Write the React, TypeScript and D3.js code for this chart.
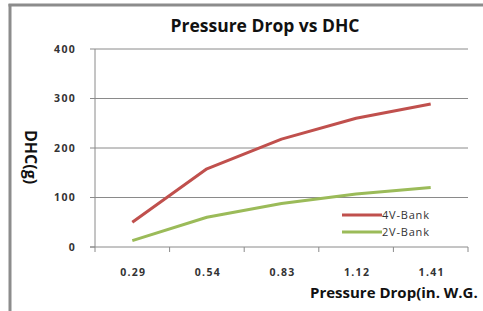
import React, { useEffect, useRef } from "react";
import * as d3 from "d3";

const categories = ["0.29", "0.54", "0.83", "1.12", "1.41"];
const bank4V = [50, 158, 218, 260, 289];
const bank2V = [13, 60, 88, 107, 120];
const yTicks = [0, 100, 200, 300, 400];
const seriesNames = ["4V-Bank", "2V-Bank"];
const seriesColors = ["#C0504D", "#9BBB59"];

const W = 483;
const H = 311;
const font = "'Open Sans', sans-serif";

export default function App() {
  const ref = useRef<SVGSVGElement>(null);

  useEffect(() => {
    const svg = d3.select(ref.current);
    svg.selectAll("*").remove();

    const margin = { top: 49, right: 15, bottom: 64, left: 95 };
    const width = W - margin.left - margin.right;
    const height = H - margin.top - margin.bottom;

    // frame
    svg.append("rect").attr("width", W).attr("height", H).attr("fill", "#fff");
    svg.append("line").attr("x1", 10).attr("x2", 10).attr("y1", 4).attr("y2", H)
      .attr("stroke", "#8c8c8c").attr("stroke-width", 3);
    svg.append("line").attr("x1", 8.5).attr("x2", W).attr("y1", 5).attr("y2", 5)
      .attr("stroke", "#8c8c8c").attr("stroke-width", 3);

    const g = svg.append("g").attr("transform", "translate(" + margin.left + "," + margin.top + ")");

    const x = d3.scaleBand().domain(categories).range([0, width]);
    const y = d3.scaleLinear().domain([0, 400]).range([height, 0]);

    // grid
    g.selectAll(".grid").data(yTicks.slice(1)).enter().append("line")
      .attr("x1", 0).attr("x2", width)
      .attr("y1", (d) => y(d)).attr("y2", (d) => y(d))
      .attr("stroke", "#8a8a8a").attr("stroke-width", 1);

    // axes
    g.append("line").attr("x1", 0).attr("x2", 0).attr("y1", 0).attr("y2", height)
      .attr("stroke", "#8a8a8a");
    g.append("line").attr("x1", -5).attr("x2", width).attr("y1", height).attr("y2", height)
      .attr("stroke", "#8a8a8a");
    const tickX = categories.map((c) => x(c) as number).concat([width]);
    g.selectAll(".xt").data(tickX).enter().append("line")
      .attr("x1", (d) => d).attr("x2", (d) => d)
      .attr("y1", height).attr("y2", height + 5)
      .attr("stroke", "#8a8a8a");
    g.selectAll(".yt").data(yTicks).enter().append("line")
      .attr("x1", -5).attr("x2", 0)
      .attr("y1", (d) => y(d)).attr("y2", (d) => y(d))
      .attr("stroke", "#8a8a8a");

    g.selectAll(".yl").data(yTicks).enter().append("text")
      .attr("x", -19).attr("y", (d) => y(d)).attr("dy", "0.35em")
      .attr("text-anchor", "end")
      .style("font", "bold 10.5px " + font).style("letter-spacing", "1.3px")
      .attr("fill", "#333")
      .text((d) => d);

    g.selectAll(".xl").data(categories).enter().append("text")
      .attr("x", (d) => (x(d) as number) + x.bandwidth() / 2 + 1)
      .attr("y", height + 29)
      .attr("text-anchor", "middle")
      .style("font", "bold 10.5px " + font).style("letter-spacing", "1.3px")
      .attr("fill", "#333")
      .text((d) => d);

    // series
    const line = d3.line<number>()
      .x((d, i) => (x(categories[i]) as number) + x.bandwidth() / 2)
      .y((d) => y(d));
    [bank4V, bank2V].forEach((s, i) => {
      g.append("path").datum(s).attr("d", line)
        .attr("fill", "none").attr("stroke", seriesColors[i])
        .attr("stroke-width", 3).attr("stroke-linejoin", "round");
    });

    // legend
    const leg = svg.append("g").attr("transform", "translate(342,215)");
    seriesNames.forEach((n, i) => {
      leg.append("line").attr("x1", 0).attr("x2", 40)
        .attr("y1", i * 17).attr("y2", i * 17)
        .attr("stroke", seriesColors[i]).attr("stroke-width", 3);
      leg.append("text").attr("x", 40).attr("y", i * 17).attr("dy", "0.35em")
        .style("font", "11px " + font).style("letter-spacing", "0.8px")
        .attr("fill", "#333").text(n);
    });

    // titles
    svg.append("text").attr("x", 265).attr("y", 32).attr("text-anchor", "middle")
      .style("font", "bold 17.5px " + font).attr("fill", "#111")
      .text("Pressure Drop vs DHC");

    svg.append("text").attr("transform", "translate(25,157) rotate(90)")
      .attr("text-anchor", "middle")
      .style("font", "bold 16px " + font).attr("fill", "#111")
      .text("DHC(g)");

    svg.append("text").attr("x", 310).attr("y", 298)
      .style("font", "bold 15px " + font).attr("fill", "#111")
      .text("Pressure Drop(in. W.G.");
  }, []);

  return (
    <div style={{ position: "absolute", left: 0, top: 0 }}>
      <svg ref={ref} width={W} height={H} style={{ display: "block" }} />
    </div>
  );
}
